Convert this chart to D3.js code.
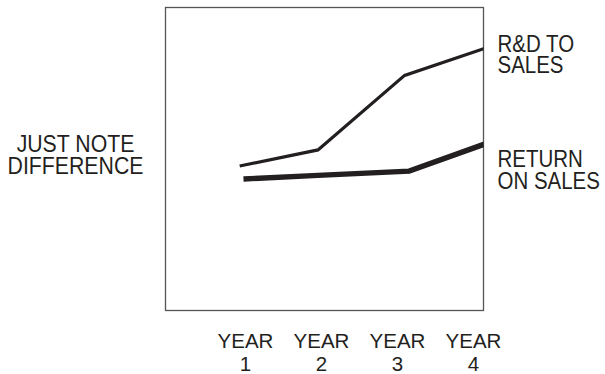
<!DOCTYPE html>
<html>
<head>
<meta charset="utf-8">
<script src="https://cdn.jsdelivr.net/npm/d3@7"></script>
<style>
  html, body { margin: 0; padding: 0; background: #fff; }
  svg text { font-family: "Liberation Sans", Arial, sans-serif; fill: #231f20; }
</style>
</head>
<body>
<svg id="chart" width="605" height="374"></svg>
<script>
// Year tick labels (two lines each) and their positions on the x scale
const yearTicks = [1, 2, 3, 4];
const yearLabels = [["YEAR", "1"], ["YEAR", "2"], ["YEAR", "3"], ["YEAR", "4"]];

// R&D to sales, relative level
const rdYears = [0.93, 1.96, 3.1, 4.15];
const rdValues = [47.7, 53, 77.6, 86.5];

// Return on sales, relative level
const rosYears = [0.98, 1.96, 3.16, 4.15];
const rosValues = [43.4, 44.6, 46, 54.9];

const seriesLabels = [["R&D TO", "SALES"], ["RETURN", "ON SALES"]];
const axisLabel = ["JUST NOTE", "DIFFERENCE"];

const svg = d3.select("#chart");
const ink = "#231f20";

const box = { left: 165.5, right: 483.5, top: 7.5, bottom: 310.5 };

const x = d3.scaleLinear().domain([1, 4]).range([245, 473]);
const y = d3.scaleLinear().domain([0, 100]).range([box.bottom, box.top]);

// Frame
svg.append("rect")
  .attr("x", box.left).attr("y", box.top)
  .attr("width", box.right - box.left).attr("height", box.bottom - box.top)
  .attr("fill", "none").attr("stroke", "#555").attr("stroke-width", 1.3);

// Lines, clipped to the frame
svg.append("clipPath").attr("id", "frame")
  .append("rect")
  .attr("x", box.left).attr("y", box.top)
  .attr("width", box.right - box.left).attr("height", box.bottom - box.top);

const line = d3.line().x(d => x(d[0])).y(d => y(d[1]));
const g = svg.append("g").attr("clip-path", "url(#frame)");

g.append("path")
  .datum(d3.zip(rdYears, rdValues))
  .attr("d", line)
  .attr("fill", "none").attr("stroke", ink)
  .attr("stroke-width", 3.2).attr("stroke-linejoin", "miter");

g.append("path")
  .datum(d3.zip(rosYears, rosValues))
  .attr("d", line)
  .attr("fill", "none").attr("stroke", ink)
  .attr("stroke-width", 5.4).attr("stroke-linejoin", "miter");

// X axis tick labels below the frame
const xAxis = d3.axisBottom(x).tickValues(yearTicks).tickSize(0).tickFormat("");
const axisG = svg.append("g").call(xAxis);
axisG.select(".domain").remove();
axisG.selectAll(".tick").each(function (d, i) {
  const t = d3.select(this).append("text")
    .attr("text-anchor", "middle")
    .attr("fill", ink)
    .style("font-size", "20.5px")
    .style("font-family", "\"Liberation Sans\", Arial, sans-serif");
  t.append("tspan").attr("x", 0).attr("y", 347.5).text(yearLabels[i][0]);
  t.append("tspan").attr("x", 0).attr("y", 371).text(yearLabels[i][1]);
});

// Two-line label drawn in a narrowed face
function label(lines, px, py, gap, anchor, sx) {
  const t = svg.append("g")
    .attr("transform", `translate(${px},${py}) scale(${sx},1)`)
    .append("text")
    .attr("text-anchor", anchor)
    .style("font-size", "23px");
  lines.forEach((s, i) => t.append("tspan").attr("x", 0).attr("y", i * gap).text(s));
}

// Series labels on the right
label(seriesLabels[0], 497.5, 51.5, 22, "start", 0.89);
label(seriesLabels[1], 497.5, 166.5, 23, "start", 0.89);

// Vertical axis caption on the left
label(axisLabel, 75.5, 151.5, 22.8, "middle", 0.925);
</script>
</body>
</html>
